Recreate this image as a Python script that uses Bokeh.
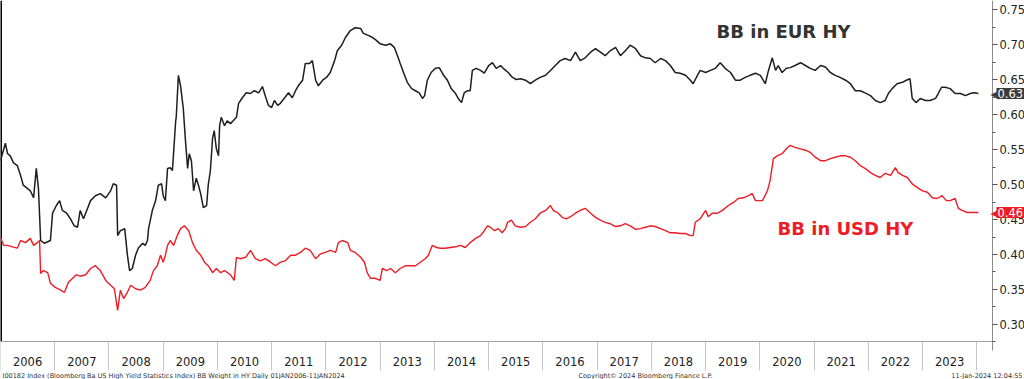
from bokeh.plotting import figure
from bokeh.models import Range1d, FixedTicker, Label, CustomJSTickFormatter, PrintfTickFormatter
from bokeh.core.properties import value
from bokeh.embed import file_html
from bokeh.resources import INLINE

# ---------------- data ----------------
years = list(range(2006, 2024))
y_ticks = [0.30, 0.35, 0.40, 0.45, 0.50, 0.55, 0.60, 0.65, 0.70, 0.75]

eur_t = [2006.00, 2006.09, 2006.13, 2006.18, 2006.24, 2006.31, 2006.37, 2006.42, 2006.50, 2006.55,
         2006.61, 2006.66, 2006.70, 2006.74, 2006.81, 2006.92, 2006.96, 2007.03, 2007.09, 2007.14,
         2007.22, 2007.29, 2007.36, 2007.42, 2007.47, 2007.53, 2007.59, 2007.66, 2007.75, 2007.84,
         2007.94, 2008.03, 2008.08, 2008.14, 2008.16, 2008.21, 2008.29, 2008.34, 2008.38, 2008.43,
         2008.49, 2008.54, 2008.62, 2008.67, 2008.71, 2008.73, 2008.80, 2008.86, 2008.91, 2008.97,
         2009.00, 2009.04, 2009.08, 2009.13, 2009.17, 2009.23, 2009.24, 2009.28, 2009.32, 2009.37,
         2009.41, 2009.45, 2009.48, 2009.52, 2009.56, 2009.61, 2009.65, 2009.69, 2009.74, 2009.80,
         2009.83, 2009.87, 2009.91, 2009.94, 2009.98, 2010.02, 2010.04, 2010.07, 2010.13, 2010.18,
         2010.24, 2010.29, 2010.35, 2010.39, 2010.46, 2010.53, 2010.61, 2010.68, 2010.76, 2010.83,
         2010.88, 2010.94, 2011.00, 2011.05, 2011.11, 2011.16, 2011.24, 2011.31, 2011.38, 2011.44,
         2011.49, 2011.57, 2011.62, 2011.70, 2011.75, 2011.81, 2011.86, 2011.94, 2012.01, 2012.08,
         2012.16, 2012.21, 2012.29, 2012.36, 2012.45, 2012.54, 2012.64, 2012.69, 2012.78, 2012.86,
         2012.93, 2013.00, 2013.10, 2013.19, 2013.26, 2013.32, 2013.37, 2013.45, 2013.50, 2013.58,
         2013.65, 2013.72, 2013.78, 2013.82, 2013.87, 2013.94, 2014.02, 2014.09, 2014.17, 2014.24,
         2014.31, 2014.39, 2014.44, 2014.50, 2014.55, 2014.61, 2014.66, 2014.70, 2014.77, 2014.85,
         2014.92, 2015.00, 2015.07, 2015.14, 2015.22, 2015.27, 2015.36, 2015.44, 2015.51, 2015.59,
         2015.68, 2015.77, 2015.86, 2015.95, 2016.05, 2016.14, 2016.23, 2016.32, 2016.41, 2016.51,
         2016.60, 2016.69, 2016.78, 2016.88, 2016.97, 2017.06, 2017.15, 2017.24, 2017.34, 2017.43,
         2017.52, 2017.61, 2017.71, 2017.80, 2017.89, 2017.98, 2018.07, 2018.17, 2018.26, 2018.35,
         2018.44, 2018.53, 2018.63, 2018.72, 2018.77, 2018.85, 2018.90, 2019.00, 2019.09, 2019.18,
         2019.27, 2019.36, 2019.46, 2019.55, 2019.64, 2019.73, 2019.82, 2019.92, 2020.01, 2020.10,
         2020.16, 2020.23, 2020.29, 2020.34, 2020.41, 2020.49, 2020.56, 2020.65, 2020.75, 2020.84,
         2020.93, 2021.02, 2021.12, 2021.21, 2021.30, 2021.39, 2021.48, 2021.58, 2021.67, 2021.76,
         2021.85, 2021.94, 2022.04, 2022.13, 2022.22, 2022.31, 2022.37, 2022.44, 2022.53, 2022.63,
         2022.70, 2022.77, 2022.81, 2022.88, 2022.96, 2023.05, 2023.14, 2023.24, 2023.29, 2023.35,
         2023.42, 2023.51, 2023.60, 2023.70, 2023.79, 2023.88, 2023.95, 2024.03]
eur_v = [0.534, 0.559, 0.544, 0.541, 0.531, 0.527, 0.513, 0.499, 0.494, 0.491,
         0.481, 0.523, 0.494, 0.420, 0.416, 0.420, 0.459, 0.470, 0.477, 0.463,
         0.459, 0.451, 0.441, 0.439, 0.463, 0.451, 0.463, 0.477, 0.484, 0.487,
         0.481, 0.491, 0.501, 0.499, 0.427, 0.434, 0.437, 0.399, 0.377, 0.380,
         0.399, 0.409, 0.416, 0.413, 0.420, 0.437, 0.463, 0.477, 0.499, 0.501,
         0.484, 0.477, 0.523, 0.524, 0.520, 0.591, 0.596, 0.656, 0.641, 0.609,
         0.563, 0.523, 0.544, 0.534, 0.491, 0.509, 0.499, 0.487, 0.467, 0.470,
         0.499, 0.520, 0.566, 0.577, 0.551, 0.541, 0.584, 0.596, 0.584, 0.591,
         0.587, 0.591, 0.596, 0.616, 0.624, 0.631, 0.630, 0.634, 0.631, 0.640,
         0.627, 0.613, 0.610, 0.620, 0.613, 0.616, 0.624, 0.631, 0.624, 0.634,
         0.641, 0.649, 0.673, 0.673, 0.677, 0.649, 0.641, 0.649, 0.653, 0.660,
         0.677, 0.691, 0.699, 0.710, 0.720, 0.724, 0.723, 0.716, 0.713, 0.710,
         0.706, 0.701, 0.699, 0.701, 0.696, 0.684, 0.673, 0.656, 0.646, 0.637,
         0.634, 0.631, 0.623, 0.627, 0.649, 0.660, 0.666, 0.667, 0.656, 0.649,
         0.637, 0.630, 0.623, 0.617, 0.631, 0.634, 0.634, 0.663, 0.666, 0.663,
         0.659, 0.670, 0.674, 0.666, 0.670, 0.666, 0.660, 0.653, 0.650, 0.651,
         0.649, 0.644, 0.649, 0.653, 0.656, 0.663, 0.670, 0.677, 0.680, 0.677,
         0.689, 0.677, 0.681, 0.689, 0.694, 0.689, 0.684, 0.691, 0.696, 0.684,
         0.691, 0.699, 0.694, 0.684, 0.681, 0.680, 0.674, 0.680, 0.677, 0.670,
         0.660, 0.659, 0.656, 0.649, 0.644, 0.656, 0.663, 0.660, 0.663, 0.666,
         0.674, 0.666, 0.660, 0.649, 0.649, 0.653, 0.656, 0.659, 0.656, 0.644,
         0.663, 0.681, 0.663, 0.670, 0.660, 0.666, 0.667, 0.670, 0.674, 0.670,
         0.666, 0.663, 0.670, 0.668, 0.660, 0.656, 0.653, 0.649, 0.644, 0.634,
         0.634, 0.631, 0.627, 0.620, 0.617, 0.620, 0.630, 0.637, 0.644, 0.646,
         0.649, 0.651, 0.623, 0.617, 0.623, 0.620, 0.620, 0.623, 0.630, 0.639,
         0.639, 0.637, 0.630, 0.630, 0.627, 0.630, 0.631, 0.630]

usd_t = [2006.00, 2006.06, 2006.13, 2006.22, 2006.31, 2006.37, 2006.46, 2006.55, 2006.61, 2006.68,
         2006.72, 2006.74, 2006.79, 2006.87, 2006.92, 2007.01, 2007.11, 2007.18, 2007.25, 2007.33,
         2007.40, 2007.47, 2007.57, 2007.66, 2007.75, 2007.84, 2007.94, 2008.03, 2008.10, 2008.16,
         2008.21, 2008.27, 2008.34, 2008.40, 2008.49, 2008.58, 2008.67, 2008.76, 2008.82, 2008.89,
         2008.95, 2009.00, 2009.04, 2009.08, 2009.13, 2009.19, 2009.26, 2009.32, 2009.39, 2009.47,
         2009.54, 2009.61, 2009.69, 2009.76, 2009.83, 2009.91, 2009.98, 2010.06, 2010.13, 2010.24,
         2010.31, 2010.35, 2010.42, 2010.52, 2010.61, 2010.70, 2010.79, 2010.88, 2010.98, 2011.07,
         2011.16, 2011.25, 2011.35, 2011.44, 2011.53, 2011.62, 2011.71, 2011.81, 2011.90, 2011.99,
         2012.08, 2012.18, 2012.23, 2012.30, 2012.40, 2012.45, 2012.54, 2012.64, 2012.71, 2012.76,
         2012.82, 2012.91, 2013.00, 2013.04, 2013.12, 2013.19, 2013.28, 2013.37, 2013.47, 2013.56,
         2013.65, 2013.74, 2013.83, 2013.89, 2013.96, 2014.04, 2014.11, 2014.20, 2014.29, 2014.39,
         2014.48, 2014.57, 2014.66, 2014.76, 2014.85, 2014.92, 2014.98, 2015.03, 2015.11, 2015.18,
         2015.25, 2015.31, 2015.35, 2015.42, 2015.49, 2015.59, 2015.68, 2015.77, 2015.86, 2015.95,
         2016.05, 2016.14, 2016.19, 2016.27, 2016.36, 2016.43, 2016.51, 2016.60, 2016.69, 2016.78,
         2016.88, 2016.97, 2017.06, 2017.15, 2017.24, 2017.34, 2017.43, 2017.52, 2017.61, 2017.71,
         2017.80, 2017.89, 2017.98, 2018.07, 2018.17, 2018.26, 2018.35, 2018.44, 2018.53, 2018.63,
         2018.72, 2018.77, 2018.81, 2018.90, 2019.00, 2019.05, 2019.12, 2019.22, 2019.31, 2019.42,
         2019.51, 2019.60, 2019.70, 2019.79, 2019.86, 2019.92, 2020.05, 2020.14, 2020.19, 2020.25,
         2020.32, 2020.41, 2020.49, 2020.56, 2020.65, 2020.75, 2020.84, 2020.93, 2021.02, 2021.12,
         2021.21, 2021.30, 2021.39, 2021.48, 2021.58, 2021.67, 2021.76, 2021.85, 2021.94, 2022.04,
         2022.13, 2022.22, 2022.31, 2022.41, 2022.50, 2022.55, 2022.63, 2022.72, 2022.81, 2022.90,
         2023.00, 2023.09, 2023.18, 2023.27, 2023.36, 2023.44, 2023.51, 2023.60, 2023.66, 2023.73,
         2023.82, 2023.90, 2024.03]
usd_v = [0.424, 0.413, 0.413, 0.411, 0.409, 0.420, 0.417, 0.423, 0.413, 0.417,
         0.420, 0.373, 0.377, 0.374, 0.359, 0.353, 0.349, 0.346, 0.360, 0.366,
         0.371, 0.369, 0.371, 0.380, 0.384, 0.377, 0.363, 0.356, 0.351, 0.320,
         0.349, 0.337, 0.346, 0.356, 0.351, 0.349, 0.353, 0.363, 0.377, 0.384,
         0.399, 0.389, 0.399, 0.413, 0.420, 0.413, 0.427, 0.437, 0.441, 0.434,
         0.417, 0.406, 0.399, 0.389, 0.384, 0.374, 0.380, 0.374, 0.377, 0.371,
         0.363, 0.396, 0.394, 0.396, 0.406, 0.394, 0.391, 0.394, 0.389, 0.384,
         0.389, 0.391, 0.399, 0.399, 0.403, 0.409, 0.406, 0.394, 0.401, 0.403,
         0.406, 0.403, 0.417, 0.420, 0.417, 0.406, 0.403, 0.396, 0.389, 0.374,
         0.366, 0.366, 0.363, 0.380, 0.377, 0.380, 0.374, 0.380, 0.384, 0.384,
         0.384, 0.389, 0.394, 0.399, 0.413, 0.410, 0.409, 0.409, 0.410, 0.411,
         0.413, 0.410, 0.417, 0.423, 0.427, 0.434, 0.441, 0.439, 0.434, 0.437,
         0.431, 0.437, 0.446, 0.449, 0.441, 0.439, 0.440, 0.446, 0.451, 0.459,
         0.463, 0.470, 0.463, 0.460, 0.453, 0.451, 0.454, 0.459, 0.463, 0.466,
         0.459, 0.453, 0.449, 0.446, 0.444, 0.440, 0.441, 0.444, 0.441, 0.436,
         0.437, 0.439, 0.441, 0.440, 0.437, 0.434, 0.431, 0.431, 0.430, 0.430,
         0.427, 0.427, 0.446, 0.451, 0.463, 0.454, 0.459, 0.459, 0.463, 0.470,
         0.474, 0.480, 0.481, 0.484, 0.487, 0.477, 0.477, 0.491, 0.506, 0.537,
         0.541, 0.544, 0.551, 0.556, 0.553, 0.551, 0.549, 0.546, 0.539, 0.534,
         0.534, 0.537, 0.539, 0.541, 0.541, 0.539, 0.534, 0.527, 0.523, 0.517,
         0.513, 0.510, 0.516, 0.513, 0.524, 0.517, 0.513, 0.510, 0.501, 0.496,
         0.491, 0.489, 0.481, 0.480, 0.484, 0.477, 0.477, 0.480, 0.466, 0.463,
         0.460, 0.460, 0.460]

eur_last = "0.63"
usd_last = "0.46"
eur_name = "BB in EUR HY"
usd_name = "BB in USD HY"
footer_left = "I00182 Index (Bloomberg Ba US High Yield Statistics Index) BB Weight in HY  Daily 01JAN2006-11JAN2024"
footer_mid = "Copyright\u00a9 2024 Bloomberg Finance L.P."
footer_right = "11-Jan-2024 12:04:55"

# ---------------- layout constants ----------------
BLACK = "#1e1e1e"
RED = "#ee1c25"
FONT = "DejaVu Sans"
W, H = 1024, 379
x_start, axis_x = 2006.0, 2024.29          # data window of the plot area
plot_top, plot_bottom = 0.7629, 0.2757
axis_px = 992                               # pixel position of the right axis
plot_h = 341                                # pixel height of the plot area
ppy = axis_px / (axis_x - x_start)          # pixels per year
ppu = plot_h / (plot_top - plot_bottom)     # pixels per unit
x_max = x_start + W / ppy
y_min = plot_bottom - (H - plot_h) / ppu

def px_x(px):
    return x_start + px / ppy

def px_below(px):
    return plot_bottom - px / ppu

def px_down(px):
    return plot_top - px / ppu

p = figure(width=W, height=H, output_backend="svg", toolbar_location=None,
           x_range=Range1d(x_start, x_max), y_range=Range1d(y_min, plot_top),
           y_axis_location="right", min_border=0)
p.outline_line_color = None
p.grid.visible = False
p.background_fill_color = "white"

# x axis: labels at mid-year, separators at year boundaries (minor ticks)
xa = p.xaxis[0]
xa.fixed_location = plot_bottom
xa.bounds = (x_start, axis_x)
xa.ticker = FixedTicker(ticks=[y + 0.5 for y in years], minor_ticks=list(range(years[0], years[-1] + 2)))
xa.formatter = CustomJSTickFormatter(code="return Math.floor(tick).toString();")
xa.major_tick_line_color = None
xa.major_tick_out = 0
xa.major_tick_in = 0
xa.minor_tick_out = 29
xa.minor_tick_in = 0
xa.minor_tick_line_color = "#c8c8c8"
xa.axis_line_color = "#a0a0a0"
xa.major_label_standoff = -14
xa.major_label_text_font = FONT
xa.major_label_text_font_size = "11.5px"
xa.major_label_text_color = "#222222"

ya = p.yaxis[0]
ya.fixed_location = axis_x
ya.bounds = (px_below(9), plot_top)
ya.ticker = FixedTicker(ticks=y_ticks, minor_ticks=[t - 0.025 for t in y_ticks])
ya.formatter = PrintfTickFormatter(format="%.2f")
ya.axis_line_color = "#8c8c8c"
ya.major_tick_line_color = "#555555"
ya.minor_tick_line_color = "#555555"
ya.major_tick_out = 5
ya.major_tick_in = 0
ya.minor_tick_out = 3
ya.minor_tick_in = 0
ya.major_label_standoff = 2
ya.major_label_text_font = FONT
ya.major_label_text_font_size = "11.5px"
ya.major_label_text_color = "#222222"

# dark left edge of the plot area
p.segment(x0=[x_start], y0=[plot_bottom], x1=[x_start], y1=[plot_top], line_color="#000000", line_width=3)

p.line(usd_t, usd_v, line_color=RED, line_width=1.4)
p.line(eur_t, eur_v, line_color=BLACK, line_width=1.5)

p.text(x=[px_x(716)], y=[px_down(31)], text=[eur_name], text_color="#333333",
       text_font=value(FONT), text_font_style="bold", text_font_size="18px",
       text_baseline="middle", text_align="left")
p.text(x=[px_x(777)], y=[px_down(228)], text=[usd_name], text_color=RED,
       text_font=value(FONT), text_font_style="bold", text_font_size="18px",
       text_baseline="middle", text_align="left")

# last-value tags on the right axis
for val, txt, col in [(eur_v[-1], eur_last, "#3a3a3a"), (usd_v[-1], usd_last, RED)]:
    p.add_layout(Label(x=axis_x, y=val, x_offset=-2, text="\u25c0", text_color=col,
                       text_font=FONT, text_font_size="12px", text_baseline="middle",
                       text_align="left"))
    p.add_layout(Label(x=axis_x, y=val, x_offset=4, text=txt, text_color="white",
                       text_font=FONT, text_font_size="11.5px", text_baseline="middle",
                       text_align="left", background_fill_color=col, padding=1))

# footer
p.text(x=[px_x(2), px_x(645), px_x(W - 2)], y=[px_below(34)] * 3,
       text=[footer_left, footer_mid, footer_right], text_align=["left", "center", "right"],
       text_font=value(FONT), text_font_size="6.5px", text_color="#333333",
       text_baseline="middle")

open("out.html", "w").write(file_html(p, INLINE))
